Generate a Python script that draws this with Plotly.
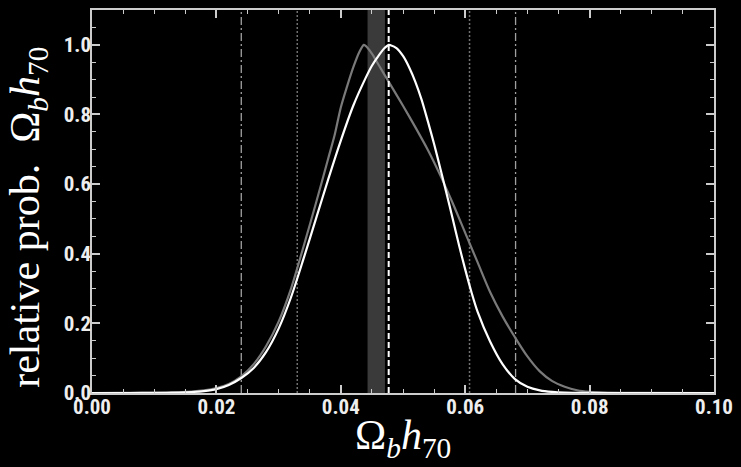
import plotly.graph_objects as go

# White curve (relative probability)
white_x = [0.000, 0.004, 0.008, 0.012, 0.014, 0.016, 0.018, 0.020, 0.022, 0.024, 0.026, 0.028,
           0.030, 0.032, 0.034, 0.036, 0.038, 0.040, 0.042, 0.044, 0.045, 0.046, 0.047, 0.0477,
           0.048, 0.049, 0.050, 0.051, 0.052, 0.053, 0.054, 0.055, 0.056, 0.057, 0.058, 0.059,
           0.060, 0.061, 0.062, 0.064, 0.066, 0.068, 0.070, 0.072, 0.074, 0.076, 0.080, 0.090, 0.100]
white_y = [0.0, 0.0, 0.0001, 0.0006, 0.0013, 0.0028, 0.0055, 0.011, 0.023, 0.043, 0.072, 0.118,
           0.185, 0.275, 0.385, 0.50, 0.615, 0.725, 0.825, 0.905, 0.94, 0.967, 0.99, 1.0,
           0.999, 0.99, 0.968, 0.935, 0.893, 0.842, 0.78, 0.715, 0.645, 0.573, 0.50, 0.425,
           0.355, 0.29, 0.233, 0.148, 0.083, 0.040, 0.018, 0.0075, 0.003, 0.001, 0.0002, 0.0, 0.0]

# Gray curve (relative probability)
gray_x = [0.000, 0.004, 0.008, 0.012, 0.014, 0.016, 0.018, 0.020, 0.022, 0.024, 0.026, 0.028,
          0.030, 0.032, 0.034, 0.036, 0.038, 0.039, 0.040, 0.041, 0.042, 0.043, 0.0437, 0.044,
          0.045, 0.046, 0.048, 0.050, 0.052, 0.054, 0.056, 0.058, 0.060, 0.062, 0.064, 0.066,
          0.068, 0.070, 0.072, 0.074, 0.076, 0.078, 0.080, 0.082, 0.084, 0.088, 0.100]
gray_y = [0.0, 0.0001, 0.0003, 0.001, 0.002, 0.004, 0.0075, 0.014, 0.026, 0.048, 0.083, 0.135,
          0.205, 0.30, 0.42, 0.545, 0.675, 0.74, 0.82, 0.88, 0.935, 0.98, 1.0, 0.997,
          0.975, 0.945, 0.885, 0.825, 0.763, 0.698, 0.625, 0.545, 0.46, 0.375, 0.29, 0.22,
          0.16, 0.105, 0.062, 0.034, 0.018, 0.008, 0.0035, 0.0015, 0.0005, 0.0001, 0.0]

# Reference markers
band_range = [0.0443, 0.0471]
dashdot_lines = [0.0240, 0.0681]
dotted_lines = [0.0330, 0.0607]
white_dashed_line = [0.0477]

x_ticks = [0.00, 0.02, 0.04, 0.06, 0.08, 0.10]
y_ticks = [0.0, 0.2, 0.4, 0.6, 0.8, 1.0]

fig = go.Figure()

fig.add_shape(type="rect", xref="x", yref="paper", x0=band_range[0], x1=band_range[1],
              y0=0, y1=1, fillcolor="#3a3a3a", line_width=0, layer="below")
for v in dashdot_lines:
    fig.add_shape(type="line", xref="x", yref="paper", x0=v, x1=v, y0=0, y1=1,
                  line=dict(color="#a0a0a0", width=1.3, dash="8px,3px,2px,3px"), layer="below")
for v in dotted_lines:
    fig.add_shape(type="line", xref="x", yref="paper", x0=v, x1=v, y0=0, y1=1,
                  line=dict(color="#707070", width=1.5, dash="2px,2px"), layer="below")

fig.add_trace(go.Scatter(x=gray_x, y=gray_y, mode="lines",
                         line=dict(color="#7a7a7a", width=2.2, shape="spline", smoothing=0.8),
                         showlegend=False, hoverinfo="skip"))
fig.add_trace(go.Scatter(x=white_x, y=white_y, mode="lines",
                         line=dict(color="#ffffff", width=2.2, shape="spline", smoothing=0.8),
                         showlegend=False, hoverinfo="skip"))

for v in white_dashed_line:
    fig.add_shape(type="line", xref="x", yref="paper", x0=v, x1=v, y0=0, y1=1,
                  line=dict(color="#ffffff", width=2, dash="6px,3px"), layer="above")

tickfont = dict(family="Liberation Sans Narrow, Arial Narrow, Roboto Condensed, Liberation Sans, Arial",
                size=21, color="#eeeeee", weight="bold")
axis_common = dict(showgrid=False, zeroline=False, showline=True, linecolor="#cccccc", linewidth=1.5,
                   mirror="ticks", ticks="inside", ticklen=8, tickwidth=1.5, tickcolor="#cccccc",
                   tickfont=tickfont)

fig.update_xaxes(range=[0, 0.1], tickvals=x_ticks, ticktext=[f"{v:.2f}" for v in x_ticks],
                 minor=dict(dtick=0.005, ticklen=4, tickwidth=1.2, tickcolor="#cccccc", ticks="inside"),
                 ticklabelstandoff=-6, **axis_common)
fig.update_yaxes(range=[0, 1.1], tickvals=y_ticks, ticktext=[f"{v:.1f}" for v in y_ticks],
                 minor=dict(dtick=0.05, ticklen=4, tickwidth=1.2, tickcolor="#cccccc", ticks="inside"),
                 ticklabelstandoff=-5, **axis_common)

title_font = dict(family="Liberation Serif, Times New Roman, serif", size=42, color="#ffffff")
fig.add_annotation(text="Ω<sub><i>b</i></sub><i>h</i><sub>70</sub>", xref="paper", yref="paper",
                   x=0.5, y=-0.19, xanchor="center", yanchor="bottom", showarrow=False, font=title_font)
fig.add_annotation(text="relative prob.  Ω<sub><i>b</i></sub><i>h</i><sub>70</sub>",
                   xref="paper", yref="paper", x=-0.103, y=0.46, xanchor="center", yanchor="middle",
                   textangle=-90, showarrow=False, font=title_font)

fig.update_layout(width=741, height=467, paper_bgcolor="#000000", plot_bgcolor="#000000",
                  margin=dict(l=92, r=23, t=8, b=74), showlegend=False)

fig.write_html("out.html", config={"displayModeBar": False},
               post_script="document.body.style.margin='0';document.body.style.overflow='hidden';")
